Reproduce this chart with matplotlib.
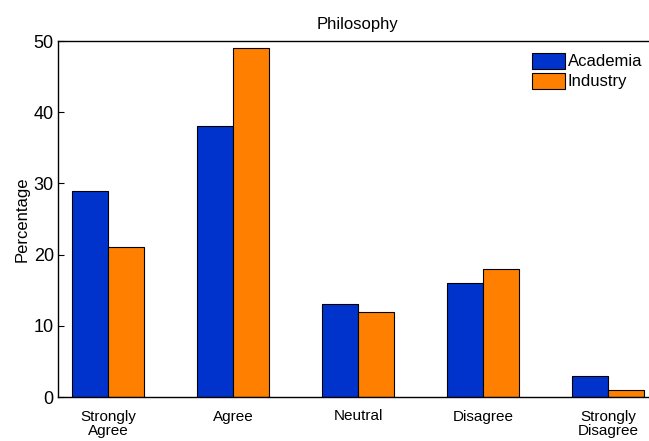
import numpy as np
import matplotlib.pyplot as plt

plt.rcParams['font.family'] = ['Liberation Sans', 'DejaVu Sans']

categories = ['Strongly\nAgree', 'Agree', 'Neutral', 'Disagree', 'Strongly\nDisagree']
academia = [29, 38, 13, 16, 3]
industry = [21, 49, 12, 18, 1]

fig = plt.figure(figsize=(6.49, 4.41), dpi=100)
ax = fig.add_axes([58 / 649, 1 - 397 / 441, 600 / 649, 356 / 441])

x = np.arange(1, len(categories) + 1)
w = 0.288
ax.bar(x - w / 2, academia, w, color='#0033cc', edgecolor='black', linewidth=0.8, label='Academia')
ax.bar(x + w / 2, industry, w, color='#ff8000', edgecolor='black', linewidth=0.8, label='Industry')

ax.set_xlim(0.6, 5.4)
ax.set_ylim(0, 50)
ax.set_yticks([0, 10, 20, 30, 40, 50])
ax.set_xticks(x)
ax.set_xticklabels(categories, fontsize=11, linespacing=1.05)
ax.tick_params(axis='x', length=0, pad=9)
ax.tick_params(axis='y', direction='in', length=4, labelsize=13, pad=3)
ax.spines['right'].set_visible(False)
for s in ['left', 'top', 'bottom']:
    ax.spines[s].set_linewidth(1.0)
ax.set_ylabel('Percentage', fontsize=12, labelpad=3)
ax.set_title('Philosophy', fontsize=12, pad=9)

ax.legend(loc='upper left', bbox_to_anchor=(0.77, 1.0), frameon=False, fontsize=12,
          handlelength=2.0, handleheight=1.1, handletextpad=0.15, labelspacing=0.2,
          borderaxespad=0.3)

plt.savefig('out.png')
